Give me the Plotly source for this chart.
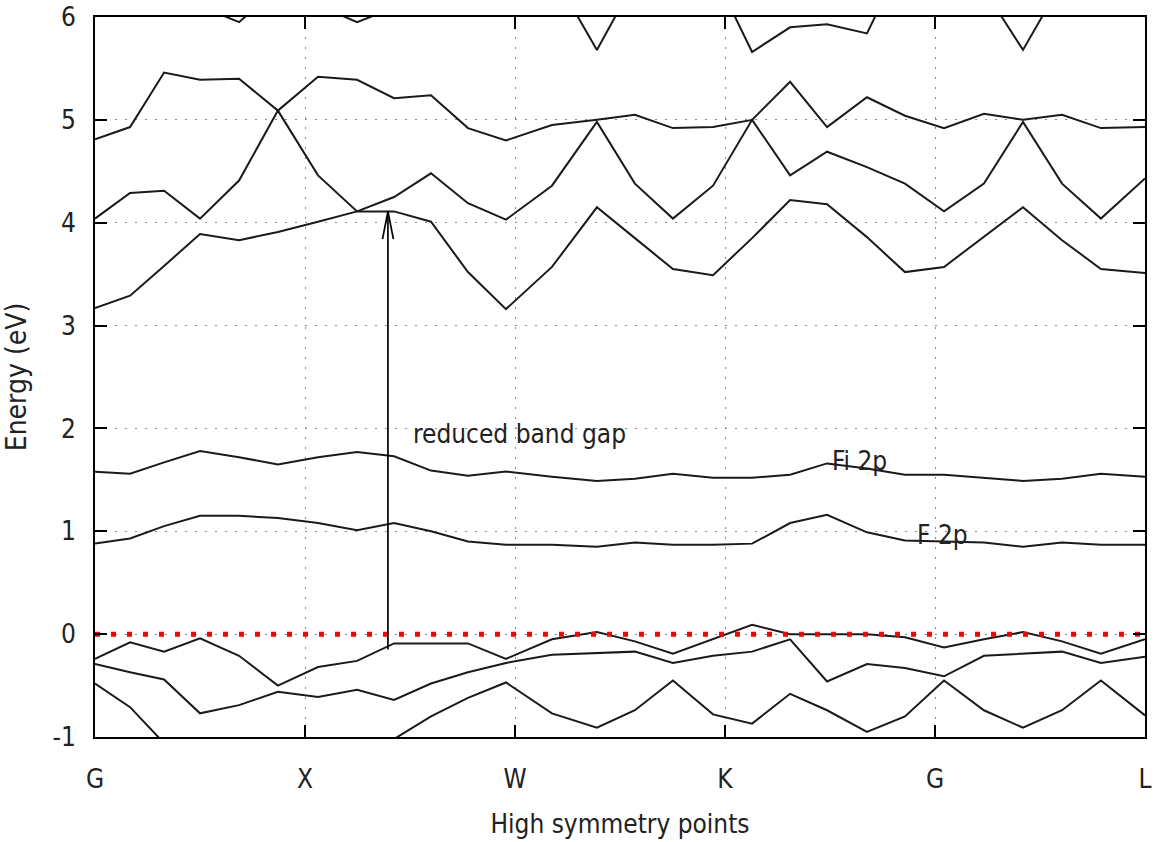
import plotly.graph_objects as go

# k-path sample positions (in units of high-symmetry segments)
kpath = [0.000, 0.167, 0.329, 0.500, 0.686, 0.871, 1.062, 1.248, 1.424, 1.600,
         1.776, 1.957, 2.176, 2.390, 2.571, 2.752, 2.943, 3.129, 3.310, 3.486,
         3.676, 3.857, 4.043, 4.233, 4.419, 4.605, 4.790, 5.000]

# high-symmetry labels
sym_pos = [0, 1, 2, 3, 4, 5]
sym_labels = ["G", "X", "W", "K", "G", "L"]

# energy axis ticks
e_ticks = [-1, 0, 1, 2, 3, 4, 5, 6]
e_labels = ["-1", "0", "1", "2", "3", "4", "5", "6"]

# valence bands (eV)
vb3 = [-0.48, -0.71, -1.06, -1.25, -1.35, -1.30, -1.25, -1.15, -1.02, -0.80,
       -0.62, -0.47, -0.77, -0.91, -0.74, -0.45, -0.78, -0.87, -0.58, -0.74,
       -0.95, -0.80, -0.45, -0.74, -0.91, -0.74, -0.45, -0.79]
vb2 = [-0.29, -0.37, -0.44, -0.77, -0.69, -0.56, -0.61, -0.54, -0.64, -0.48,
       -0.37, -0.28, -0.20, -0.18, -0.17, -0.28, -0.21, -0.17, -0.05, -0.46,
       -0.29, -0.33, -0.41, -0.21, -0.19, -0.17, -0.28, -0.22]
vb1 = [-0.24, -0.08, -0.17, -0.04, -0.21, -0.50, -0.32, -0.26, -0.09, -0.09,
       -0.09, -0.24, -0.05, 0.02, -0.07, -0.19, -0.05, 0.09, 0.00, 0.00,
       0.00, -0.03, -0.13, -0.05, 0.02, -0.07, -0.19, -0.05]

# impurity-like flat bands in the gap
f2p = [0.88, 0.93, 1.05, 1.15, 1.15, 1.13, 1.08, 1.01, 1.08, 1.00,
       0.90, 0.87, 0.87, 0.85, 0.89, 0.87, 0.87, 0.88, 1.08, 1.16,
       0.99, 0.91, 0.90, 0.89, 0.85, 0.89, 0.87, 0.87]
fi2p = [1.58, 1.56, 1.67, 1.78, 1.72, 1.65, 1.72, 1.77, 1.73, 1.59,
        1.54, 1.58, 1.53, 1.49, 1.51, 1.56, 1.52, 1.52, 1.55, 1.66,
        1.61, 1.55, 1.55, 1.52, 1.49, 1.51, 1.56, 1.53]

# conduction bands (eV)
cb1 = [3.17, 3.29, 3.58, 3.89, 3.83, 3.91, 4.01, 4.11, 4.11, 4.01,
       3.52, 3.16, 3.57, 4.15, 3.85, 3.55, 3.49, 3.85, 4.22, 4.18,
       3.86, 3.52, 3.57, 3.86, 4.15, 3.83, 3.55, 3.51]
cb2 = [4.04, 4.29, 4.31, 4.04, 4.41, 5.09, 4.46, 4.11, 4.25, 4.48,
       4.19, 4.03, 4.36, 4.98, 4.38, 4.04, 4.36, 5.00, 4.46, 4.69,
       4.54, 4.38, 4.11, 4.38, 4.98, 4.38, 4.04, 4.43]
cb3 = [4.81, 4.93, 5.46, 5.39, 5.40, 5.09, 5.42, 5.39, 5.21, 5.24,
       4.92, 4.80, 4.95, 5.00, 5.05, 4.92, 4.93, 5.00, 5.37, 4.93,
       5.22, 5.04, 4.92, 5.06, 5.00, 5.05, 4.92, 4.93]
cb4 = [6.50, 6.40, 6.25, 6.11, 5.95, 6.28, 6.11, 5.95, 6.09, 6.30,
       6.45, 6.55, 6.44, 5.68, 6.35, 6.50, 6.44, 5.66, 5.90, 5.93,
       5.84, 6.60, 6.70, 6.27, 5.68, 6.34, 6.50, 6.50]

bands = [vb3, vb2, vb1, f2p, fi2p, cb1, cb2, cb3, cb4]

fermi = 0.0

# band-gap arrow (k position, lower and upper energies)
gap_k = 1.395
gap_lo = -0.15
gap_hi = 4.11

FONT = "DejaVu Sans Condensed, DejaVu Sans, sans-serif"
LINE = "#1a1a1a"

fig = go.Figure()

for b in bands:
    fig.add_trace(go.Scatter(x=kpath, y=b, mode="lines",
                             line=dict(color=LINE, width=2),
                             hoverinfo="skip", showlegend=False))

# Fermi level
fig.add_trace(go.Scatter(x=[sym_pos[0], sym_pos[-1]], y=[fermi, fermi], mode="lines",
                         line=dict(color="#ff0000", width=5, dash="5px,11px"),
                         hoverinfo="skip", showlegend=False))

# arrow: shaft plus an open V head
hx, hy = 0.026, 0.27
fig.add_trace(go.Scatter(
    x=[gap_k, gap_k, None, gap_k - hx, gap_k, gap_k + hx],
    y=[gap_lo, gap_hi, None, gap_hi - hy, gap_hi, gap_hi - hy],
    mode="lines", line=dict(color="black", width=1.7),
    hoverinfo="skip", showlegend=False))

fig.add_annotation(x=1.505, y=1.95, text="reduced band gap", showarrow=False,
                   xanchor="left", yanchor="middle", font=dict(size=26, color="#222"))
fig.add_annotation(x=3.50, y=1.68, text="Fi 2p", showarrow=False,
                   xanchor="left", yanchor="middle", font=dict(size=26, color="#222"))
fig.add_annotation(x=3.905, y=0.96, text="F 2p", showarrow=False,
                   xanchor="left", yanchor="middle", font=dict(size=26, color="#222"))

axis_common = dict(
    showline=True, linecolor="black", linewidth=2, mirror="allticks",
    ticks="inside", ticklen=12, tickwidth=2, tickcolor="black",
    showgrid=True, gridcolor="#8a8a8a", gridwidth=1, griddash="2px,8px",
    zeroline=False, tickfont=dict(size=26, color="#222"), automargin=False,
)

fig.update_layout(
    width=1157, height=842,
    margin=dict(l=95, r=12, t=17, b=105),
    paper_bgcolor="white", plot_bgcolor="white",
    font=dict(family=FONT, color="#222"),
    xaxis=dict(range=[sym_pos[0], sym_pos[-1]], tickvals=sym_pos, ticktext=sym_labels,
               ticklabelstandoff=18,
               title=dict(text="High symmetry points", font=dict(size=26), standoff=22),
               **axis_common),
    yaxis=dict(range=[e_ticks[0], e_ticks[-1]], tickvals=e_ticks, ticktext=e_labels,
               ticklabelstandoff=12,
               title=dict(text="Energy (eV)", font=dict(size=28), standoff=18),
               **axis_common),
)

fig.write_html("out.html")
